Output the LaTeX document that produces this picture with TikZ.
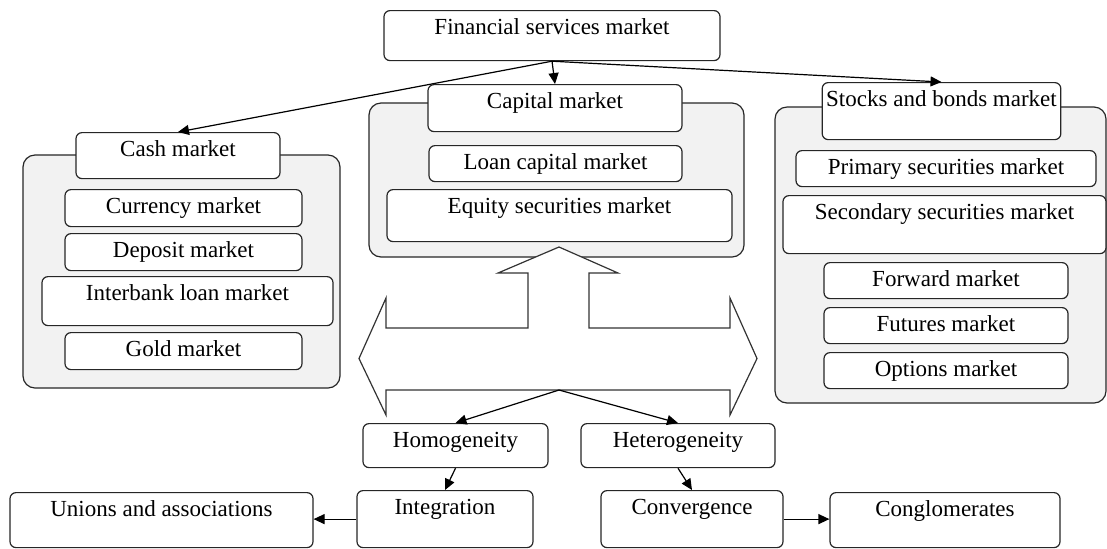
\documentclass[tikz,border=0pt]{standalone}
\usepackage{fontspec}
\setmainfont{Liberation Serif}
\usetikzlibrary{arrows.meta,positioning}
\definecolor{grpgray}{RGB}{242,242,242}
\tikzset{
	mktbox/.style={
		rectangle,
		rounded corners=3pt,
		draw=black!85,
		fill=white,
		anchor=north,
		inner xsep=2pt,
		inner ysep=3pt,
		text height=9pt,
		text depth=#1,
		text centered},
	mktgroup/.style={
		rectangle,
		rounded corners=6pt,
		draw=black!85,
		fill=grpgray,
		inner sep=0pt},
	flowedge/.style = {
		-{Triangle[length=5.5pt,width=5pt]},
		draw=black
	},
	bigarrow/.style={
		draw=black!80,
		fill=white,
		line join=miter
	}
}
\begin{document}
\begin{tikzpicture}[
			x=0.5pt, y=-0.5pt,
			line width=0.6pt,
			font=\fontsize{11.5}{13}\selectfont,
			]
		\useasboundingbox (0,0) rectangle (1107,548);

		% groups
		\node[mktgroup, minimum width=158.5pt, minimum height=116.5pt] (CASHG) at (181.5,271.5) {};
		\node[mktgroup, minimum width=187.5pt, minimum height=77pt] (CAPG) at (556.5,180) {};
		\node[mktgroup, minimum width=165.5pt, minimum height=148pt] (STKG) at (940.5,255) {};

		\node[mktbox=10pt, minimum width=168pt] (FSM) at (552,10) {Financial services market};

		\node[mktbox=8pt, minimum width=102pt] (CASH) at (178,132) {Cash market};
		\node[mktbox=3.5pt, minimum width=118.5pt] (CUR) at (183.5,189) {Currency market};
		\node[mktbox=3.5pt, minimum width=118.5pt] (DEP) at (183.5,233) {Deposit market};
		\node[mktbox=9.5pt, minimum width=145.5pt] (IBL) at (187.5,276) {Interbank loan market};
		\node[mktbox=3.5pt, minimum width=118.5pt] (GOLD) at (183.5,332) {Gold market};

		\node[mktbox=8.5pt, minimum width=127pt] (CAP) at (555,84) {Capital market};
		\node[mktbox=3pt, minimum width=126.5pt] (LOAN) at (555.5,145) {Loan capital market};
		\node[mktbox=11pt, minimum width=172.5pt] (EQ) at (559.5,189) {Equity securities market};

		\node[mktbox=13.5pt, minimum width=118.5pt] (STK) at (941.5,82) {Stocks and bonds market};
		\node[mktbox=3pt, minimum width=150pt] (PRIM) at (946,150) {Primary securities market};
		\node[mktbox=14pt, minimum width=161.5pt] (SEC) at (944.5,195) {Secondary securities market};
		\node[mktbox=3pt, minimum width=122pt] (FWD) at (946,262) {Forward market};
		\node[mktbox=3pt, minimum width=122pt] (FUT) at (946,307) {Futures market};
		\node[mktbox=3pt, minimum width=122pt] (OPT) at (946,352) {Options market};

		\node[mktbox=7pt, minimum width=92.5pt] (HOM) at (455.5,423) {Homogeneity};
		\node[mktbox=7pt, minimum width=97pt] (HET) at (678,423) {Heterogeneity};
		\node[mktbox=13.5pt, minimum width=88pt] (INT) at (445,490) {Integration};
		\node[mktbox=13.5pt, minimum width=91pt] (CONV) at (692,490) {Convergence};
		\node[mktbox=12.5pt, minimum width=151.5pt] (UNI) at (161.5,492) {Unions and associations};
		\node[mktbox=12.5pt, minimum width=115pt] (CONG) at (945,492) {Conglomerates};

		% the big arrow between the markets
		\draw[bigarrow] (559,247) -- (618,273) -- (589,273) -- (589,328) -- (730,328)
			-- (730,298) -- (757,358.5) -- (730,415) -- (730,390) -- (386,390)
			-- (386,415) -- (359,358.5) -- (386,298) -- (386,328) -- (528,328)
			-- (528,273) -- (498,273) -- cycle;
		\coordinate (BAR) at (559,390);

		\path (FSM.south) edge[flowedge] (CASH.north);
		\path (FSM.south) edge[flowedge] (CAP.north);
		\path (FSM.south) edge[flowedge] (STK.north);

		\path (BAR) edge[flowedge] (HOM.north);
		\path (BAR) edge[flowedge] (HET.north);
		\path (HOM.south) edge[flowedge] (INT.north);
		\path (HET.south) edge[flowedge] (CONV.north);
		\path (INT.west) edge[flowedge] (INT.west -| UNI.east);
		\path (CONV.east) edge[flowedge] (CONV.east -| CONG.west);
\end{tikzpicture}
\end{document}
